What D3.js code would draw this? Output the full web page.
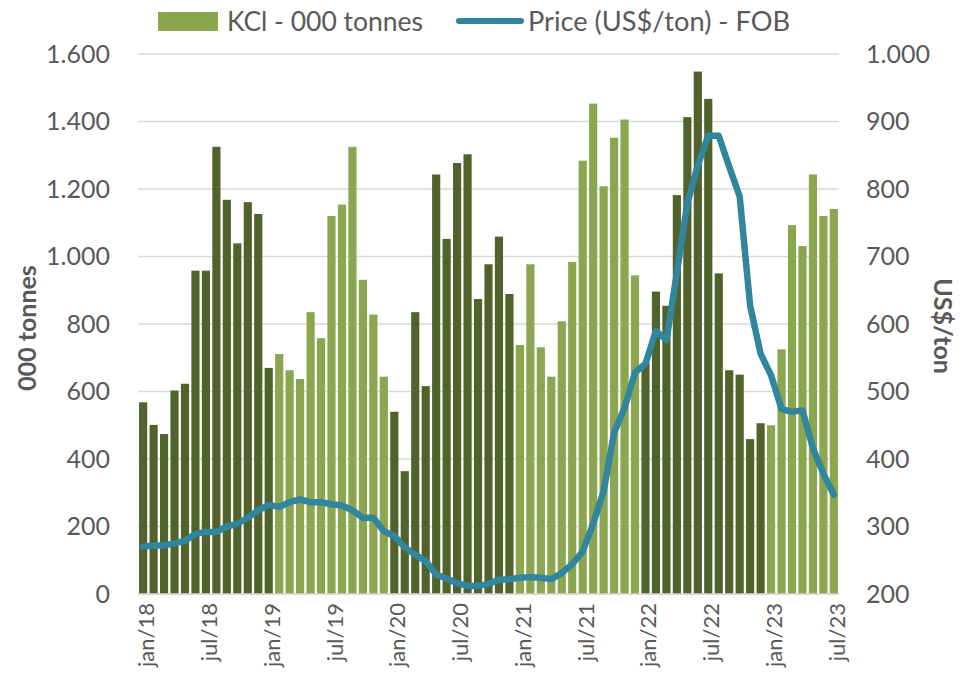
<!DOCTYPE html>
<html>
<head>
<meta charset="utf-8">
<script src="https://cdn.jsdelivr.net/npm/d3@7"></script>
<style>
  html, body { margin: 0; padding: 0; background: #ffffff; }
  svg { display: block; }
  text { font-family: Lato, "Open Sans", sans-serif; fill: #595959; }
</style>
</head>
<body>
<svg id="chart" width="972" height="677"></svg>
<script>
// Monthly KCl volumes (000 tonnes) and FOB price (US$/ton), jan/18 – jul/23
const monthNames = ["jan","fev","mar","abr","mai","jun","jul","ago","set","out","nov","dez"];
const years = ["18","19","20","21","22","23"];
const lastMonthIndex = 6; // data runs through jul/23

const volumes = [
  568, 501, 474, 603, 623, 958, 958, 1325, 1168, 1039, 1161, 1126,
  670, 711, 663, 637, 835, 758, 1120, 1154, 1325, 931, 828, 644,
  540, 364, 835, 616, 1243, 1052, 1277, 1303, 874, 977, 1059, 889,
  738, 977, 731, 644, 808, 984, 1284, 1453, 1208, 1352, 1406, 944,
  685, 896, 854, 1182, 1413, 1548, 1467, 950, 663, 650, 459, 506,
  500, 725, 1093, 1031, 1243, 1120, 1141
];

const prices = [
  270, 272, 272, 275, 279, 289, 292, 292, 300, 304, 313, 324,
  332, 329, 336, 340, 336, 336, 333, 331, 324, 313, 313, 293,
  286, 269, 258, 249, 229, 223, 216, 212, 212, 215, 221, 222,
  224, 225, 224, 222, 231, 244, 263, 304, 352, 439, 476, 528,
  541, 590, 576, 676, 779, 835, 879, 879, 833, 789, 627, 556,
  524, 474, 470, 472, 416, 378, 347
];

// Stretches of months drawn in the darker shade (inclusive)
const darkRanges = [["jan/18", "jan/19"], ["jan/20", "dez/20"], ["jan/22", "dez/22"]];

const leftTicks = [0, 200, 400, 600, 800, 1000, 1200, 1400, 1600];
const rightTicks = [200, 300, 400, 500, 600, 700, 800, 900, 1000];

const legendLabels = ["KCl - 000 tonnes", "Price (US$/ton) - FOB"];
const leftTitle = "000 tonnes";
const rightTitle = "US$/ton";

// Category labels
const categories = [];
years.forEach((y, yi) => {
  monthNames.forEach((m, mi) => {
    if (yi === years.length - 1 && mi > lastMonthIndex) return;
    categories.push(m + "/" + y);
  });
});
const tickLabels = categories.filter((c, i) => i % 6 === 0);

const data = categories.map((c, i) => ({ cat: c, vol: volumes[i], price: prices[i], i }));

const darkIdx = new Set();
darkRanges.forEach(([a, b]) => {
  const s = categories.indexOf(a), e = categories.indexOf(b);
  for (let k = s; k <= e; k++) darkIdx.add(k);
});

const COLORS = { dark: "#50632b", light: "#8aa64e", line: "#31859c", grid: "#d9d9d9" };

const svg = d3.select("#chart");
const plot = { left: 138, right: 839, top: 54, bottom: 594 };

const x = d3.scaleBand().domain(categories).range([plot.left, plot.right]).paddingInner(0.22).paddingOuter(0.1);
const yL = d3.scaleLinear().domain([0, 1600]).range([plot.bottom, plot.top]);
const yR = d3.scaleLinear().domain([200, 1000]).range([plot.bottom, plot.top]);

// Gridlines
svg.append("g").selectAll("line").data(leftTicks).join("line")
  .attr("x1", plot.left).attr("x2", plot.right)
  .attr("y1", d => yL(d)).attr("y2", d => yL(d))
  .attr("stroke", COLORS.grid).attr("stroke-width", 1.5);

// Bars
svg.append("g").selectAll("rect").data(data).join("rect")
  .attr("x", d => x(d.cat))
  .attr("width", x.bandwidth())
  .attr("y", d => yL(d.vol))
  .attr("height", d => yL(0) - yL(d.vol))
  .attr("fill", d => darkIdx.has(d.i) ? COLORS.dark : COLORS.light);

// Price line
const line = d3.line()
  .x(d => x(d.cat) + x.bandwidth() / 2)
  .y(d => yR(d.price));
svg.append("path").datum(data)
  .attr("d", line)
  .attr("fill", "none")
  .attr("stroke", COLORS.line)
  .attr("stroke-width", 6.5)
  .attr("stroke-linejoin", "round")
  .attr("stroke-linecap", "round");

// Left axis
const fmt = v => d3.format(",")(v).replace(/,/g, ".");
const leftAxis = d3.axisLeft(yL).tickValues(leftTicks).tickFormat(fmt).tickSize(0).tickPadding(0);
const gL = svg.append("g").attr("transform", `translate(${110},0)`).call(leftAxis);
gL.select(".domain").remove();
gL.selectAll("text").attr("font-size", 25).attr("fill", "#595959")
  .style("font-family", "Lato, sans-serif");

// Right axis
const rightAxis = d3.axisRight(yR).tickValues(rightTicks).tickFormat(fmt).tickSize(0).tickPadding(0);
const gR = svg.append("g").attr("transform", `translate(${866},0)`).call(rightAxis);
gR.select(".domain").remove();
gR.selectAll("text").attr("font-size", 25).attr("fill", "#595959")
  .style("font-family", "Lato, sans-serif");

// Bottom axis
const bottomAxis = d3.axisBottom(x).tickValues(tickLabels).tickSize(0).tickPadding(0);
const gB = svg.append("g").attr("transform", `translate(0,${plot.bottom})`).call(bottomAxis);
gB.select(".domain").attr("stroke", COLORS.grid).attr("stroke-width", 1.5)
  .attr("d", `M${plot.left},0H${plot.right}`);
gB.selectAll("text")
  .attr("font-size", 22).attr("fill", "#595959")
  .style("font-family", "Lato, sans-serif")
  .attr("text-anchor", "end")
  .attr("dy", null)
  .attr("y", 0)
  .attr("transform", "translate(11,9) rotate(-90)");

// Axis titles
svg.append("text").text(leftTitle)
  .attr("transform", "translate(36,328) rotate(-90)")
  .attr("text-anchor", "middle")
  .attr("font-size", 25).attr("font-weight", "bold").attr("fill", "#404040");
svg.append("text").text(rightTitle)
  .attr("transform", "translate(934,326) rotate(90)")
  .attr("text-anchor", "middle")
  .attr("font-size", 25).attr("font-weight", "bold").attr("fill", "#404040");

// Legend
const lg = svg.append("g");
lg.append("rect").attr("x", 158).attr("y", 12).attr("width", 60).attr("height", 19).attr("fill", COLORS.light);
lg.append("text").text(legendLabels[0]).attr("x", 227).attr("y", 31)
  .attr("font-size", 26).attr("textLength", 196).attr("lengthAdjust", "spacingAndGlyphs");
lg.append("line").attr("x1", 459).attr("x2", 521).attr("y1", 21).attr("y2", 21)
  .attr("stroke", COLORS.line).attr("stroke-width", 6).attr("stroke-linecap", "round");
lg.append("text").text(legendLabels[1]).attr("x", 528).attr("y", 31)
  .attr("font-size", 26).attr("textLength", 262).attr("lengthAdjust", "spacingAndGlyphs");
</script>
</body>
</html>
